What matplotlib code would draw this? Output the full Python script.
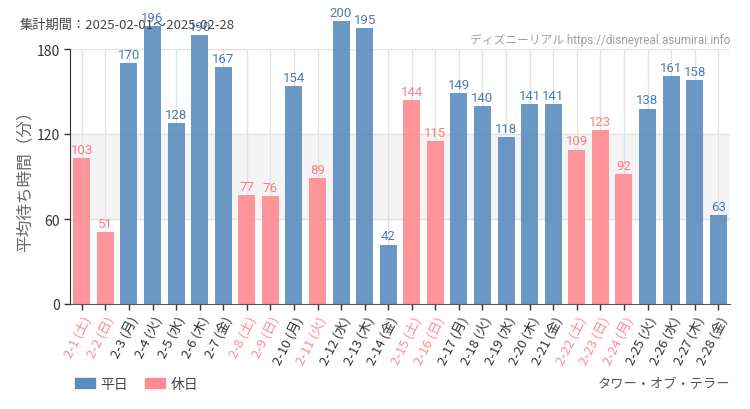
import matplotlib
matplotlib.use("Agg")
import matplotlib.pyplot as plt
from matplotlib.patches import Patch

plt.rcParams['font.family'] = ['Noto Sans CJK JP', 'DejaVu Sans']

# data
dates = ["2-1", "2-2", "2-3", "2-4", "2-5", "2-6", "2-7", "2-8", "2-9", "2-10",
         "2-11", "2-12", "2-13", "2-14", "2-15", "2-16", "2-17", "2-18", "2-19", "2-20",
         "2-21", "2-22", "2-23", "2-24", "2-25", "2-26", "2-27", "2-28"]
weekdays = ["土", "日", "月", "火", "水", "木", "金", "土", "日", "月",
            "火", "水", "木", "金", "土", "日", "月", "火", "水", "木",
            "金", "土", "日", "月", "火", "水", "木", "金"]
waits = [103, 51, 170, 196, 128, 190, 167, 77, 76, 154,
         89, 200, 195, 42, 144, 115, 149, 140, 118, 141,
         141, 109, 123, 92, 138, 161, 158, 63]
holiday = [1, 1, 0, 0, 0, 0, 0, 1, 1, 0,
           1, 0, 0, 0, 1, 1, 0, 0, 0, 0,
           0, 1, 1, 1, 0, 0, 0, 0]
yticks = [0, 60, 120, 180]

blue = "#5b8cbf"
pink = "#ff8a8f"
blue_txt = "#4a7db3"
pink_txt = "#ff7c82"
narrow = ['Roboto', 'Noto Sans CJK JP']

fig = plt.figure(figsize=(7.5, 4.1), dpi=100)
ax = fig.add_axes([70/750, 1-305/410, 660/750, 255/410])

x = list(range(len(waits)))
cols = [pink if h else blue for h in holiday]
ax.axhspan(60, 120, color="#f4f4f4", zorder=0)
for v in yticks[1:]:
    ax.axhline(v, color="#e2e2e2", lw=1, zorder=0.5)
for xi in x:
    ax.axvline(xi, color="#e2e2e2", lw=1, zorder=0.5)

bars = ax.bar(x, waits, width=0.72, color=cols, alpha=0.9, zorder=2, clip_on=False)
for xi, v, h in zip(x, waits, holiday):
    ax.text(xi, v + 1.5, str(v), ha="center", va="bottom", fontsize=9.5,
            color=pink_txt if h else blue_txt, family=narrow, clip_on=False)

ax.set_xlim(-0.5, len(waits) - 0.5)
ax.set_ylim(0, 180)
ax.set_yticks(yticks)
ax.set_yticklabels([str(t) for t in yticks], fontsize=10, color="#333333")
ax.set_xticks(x)
ax.set_xticklabels([f"{d} ({w})" for d, w in zip(dates, weekdays)],
                   rotation=63, ha="right", va="top", rotation_mode="anchor",
                   fontsize=9.5)
for lbl, h in zip(ax.get_xticklabels(), holiday):
    lbl.set_color(pink if h else "#333333")
ax.tick_params(axis="both", length=4, width=1, color="#333333")
ax.tick_params(axis="x", pad=3)

for s in ["top", "right"]:
    ax.spines[s].set_visible(False)
ax.spines["left"].set_color("#333333")
ax.spines["bottom"].set_color("#555555")

ax.set_ylabel("平均待ち時間（分）", fontsize=12, color="#666666", labelpad=2)

fig.text(20/750, 1-25/410, "集計期間：2025-02-01～2025-02-28", fontsize=9.5,
         color="#444444", va="center")
fig.text(730/750, 1-40/410, "ディズニーリアル https://disneyreal.asumirai.info",
         fontsize=8.5, color="#a0a0a0", ha="right", va="center", family=narrow)
fig.text(730/750, 1-384/410, "タワー・オブ・テラー", fontsize=9.5,
         color="#555555", ha="right", va="center")

handles = [Patch(color=blue, label="平日"), Patch(color=pink, label="休日")]
fig.legend(handles=handles, loc="center left", bbox_to_anchor=(62/750, 1-385/410),
           ncol=2, frameon=False, fontsize=10, handlelength=1.45, handleheight=0.75,
           handletextpad=0.4, columnspacing=1.2, labelcolor="#444444")

fig.savefig("out.png", dpi=100)
